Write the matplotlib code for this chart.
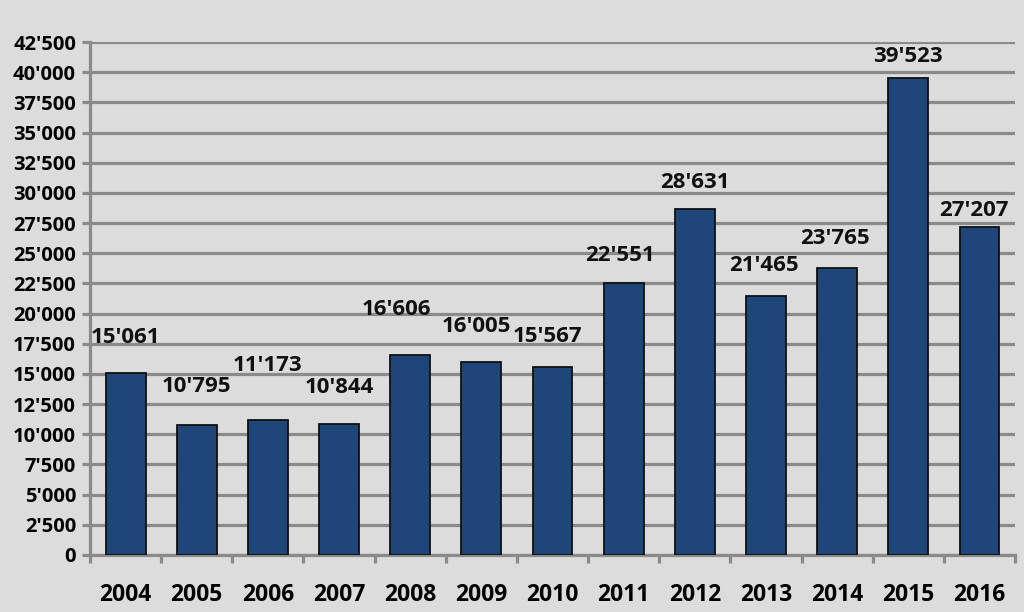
import matplotlib
matplotlib.use("Agg")
import matplotlib.pyplot as plt
import numpy as np
from matplotlib.ticker import FuncFormatter, FixedLocator

years = ["2004", "2005", "2006", "2007", "2008", "2009", "2010",
         "2011", "2012", "2013", "2014", "2015", "2016"]
values = [15061, 10795, 11173, 10844, 16606, 16005, 15567,
          22551, 28631, 21465, 23765, 39523, 27207]
# label offsets in pixels (dx, dy above bar top), as placed in the original
label_dx = [0, 0, 0, 0, -14, -5, -5, -4, 0, -2, -2, 0, -6]
label_dy = [36, 38, 55, 37, 45, 35, 31, 27, 27, 30, 30, 21, 16]

def fmt(v, pos=None):
    return f"{int(v):,}".replace(",", "'")

bg = "#dcdcdc"
grid_c = "#8a8a8a"
fnt = "Open Sans"

fig = plt.figure(figsize=(10.24, 6.12), dpi=100, facecolor=bg)
ax = fig.add_axes([90 / 1024, 57 / 612, 925 / 1024, 513 / 612])
ax.set_facecolor(bg)

x = np.arange(len(years))
ax.bar(x, values, width=0.56, color="#1f467b", edgecolor="#111111",
       linewidth=1.3, zorder=3)

ax.set_xlim(-0.5, len(years) - 0.5)
ax.set_ylim(0, 42500)
ax.set_yticks(np.arange(0, 42501, 2500))
ax.yaxis.set_major_formatter(FuncFormatter(fmt))
ax.yaxis.grid(True, color=grid_c, linewidth=2.3, zorder=0)
ax.set_axisbelow(True)

ax.set_xticks(x)
ax.set_xticklabels(years)
ax.xaxis.set_minor_locator(FixedLocator(np.arange(-0.5, len(years), 1.0)))
ax.tick_params(axis="x", which="major", length=0, pad=20)
ax.tick_params(axis="x", which="minor", length=6, width=2.3, color=grid_c)
ax.tick_params(axis="y", length=6, width=2.3, color=grid_c, pad=4)

for lbl in ax.get_xticklabels():
    lbl.set_fontfamily(fnt)
    lbl.set_fontweight("bold")
    lbl.set_fontsize(16.5)
for lbl in ax.get_yticklabels():
    lbl.set_fontfamily(fnt)
    lbl.set_fontweight("bold")
    lbl.set_fontsize(14.5)

for s in ["top", "right"]:
    ax.spines[s].set_visible(False)
for s in ["left", "bottom"]:
    ax.spines[s].set_color(grid_c)
    ax.spines[s].set_linewidth(2.3)

for xi, v, dx, dy in zip(x, values, label_dx, label_dy):
    ax.annotate(fmt(v), (xi, v), xytext=(dx * 0.72, dy * 0.72),
                textcoords="offset points", ha="center", va="center",
                fontfamily=fnt, fontweight="bold", fontsize=16,
                color="#111111", zorder=4)

fig.savefig("out.png", dpi=100, facecolor=bg)
